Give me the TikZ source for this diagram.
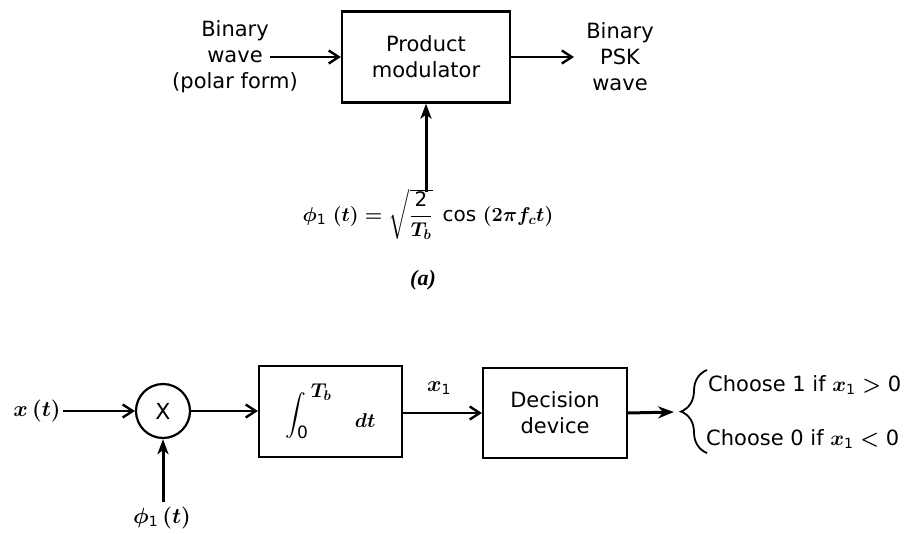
\RequirePackage{fix-cm}
\documentclass[tikz,border=0pt]{standalone}
\usepackage{exscale}
\usepackage{fontspec}
\setmainfont{DejaVu Sans}
\newfontfamily\serifit{Liberation Serif}
\usetikzlibrary{arrows.meta,decorations.pathreplacing,calc}
\newcommand{\sfone}{\mbox{\normalfont\fontsize{14}{16}\selectfont 1}}
\begin{document}
\begin{tikzpicture}[x=1pt,y=-1pt,
  lab/.style={font=\fontsize{21}{26}\selectfont, align=center, inner sep=2pt},
  mlab/.style={font=\fontsize{22}{26}\selectfont\boldmath, inner sep=2pt},
  blk/.style={draw, line width=2.2pt, align=center, font=\fontsize{21}{26}\selectfont, inner sep=0pt},
  conn/.style={line width=2.8pt, -{Straight Barb[length=10pt,width=13pt,line width=2.4pt]}},
  vconn/.style={line width=3pt, -{Stealth[length=15pt,width=11pt,inset=4pt]}},
  conns/.style={line width=3pt, -{Stealth[length=16pt,width=12pt]}},
]
\useasboundingbox (0,0) rectangle (913,533);

% ---------- (a) transmitter ----------
\node[blk, minimum width=168pt, minimum height=91pt] (pm) at (426,57) {Product\\modulator};
\node[lab] (bin) at (235,57) {Binary\\wave\\(polar form)};
\coordinate (inA) at (270,57);
\node[lab] (psk) at (620,57) {Binary\\PSK\\wave};
\coordinate (outA) at (574,57);
\draw[conn] (inA) -- (pm.west);
\draw[conn] (pm.east) -- (outA);
\node[mlab, font=\fontsize{20}{24}\selectfont\boldmath, inner sep=0pt] (phiA) at (428,214)
  {$\phi_{\sfone}\;(t) = \sqrt{\displaystyle\frac{\mbox{2}}{T_b}}\;\,\mbox{cos}\;(2\pi f_c t)$};
\coordinate (phiTop) at ([yshift=-3pt]pm.south |- phiA.north);
\draw[vconn] (phiTop) -- (pm.south);
\node[font=\fontsize{22}{26}\selectfont\serifit\bfseries\itshape] (capA) at (423,280) {(a)};

% ---------- (b) receiver ----------
\node[mlab] (xt) at (37,411) {$x\,(t)$};
\node[draw, circle, line width=2.2pt, minimum size=54pt, inner sep=0pt,
      font=\fontsize{22}{26}\selectfont] (mul) at (163,411) {X};
\node[blk, minimum width=143pt, minimum height=91pt, font=\fontsize{20}{26}\selectfont\boldmath]
  (int) at (330.5,411.5)
  {$\displaystyle\int_{\mbox{\fontsize{17}{18}\selectfont 0}}^{\;\textstyle T_b}\;\;\; \raisebox{-7pt}{$dt$}$};
\node[blk, minimum width=144pt, minimum height=90pt] (dec) at (555,413) {Decision\\device};
\node[mlab] (x1) at (439,388) {$x_{\sfone}$};
\node[mlab] (phiB) at (162,518) {$\phi_{\sfone}\,(t)$};
\coordinate (phiBtop) at (163,502);
\coordinate (brtip) at (674,412);
\coordinate (brt) at (707,370);
\coordinate (brb) at (707,453);

\draw[conn] (xt.east) -- (mul.west);
\draw[vconn] (phiBtop) -- (mul.south);
\draw[conn] (mul.east) -- (int.west |- mul.east);
\draw[conn] (int.east |- dec.west) -- (dec.west);
\draw[conns] (dec.east) -- (brtip);
\draw[line width=1.8pt, decorate, decoration={brace, amplitude=26pt}] (brb) -- (brt);

\node[lab, anchor=west, font=\fontsize{21}{26}\selectfont\boldmath] (ch1) at (706,385) {Choose 1 if $x_{\sfone} > \mbox{0}$};
\node[lab, anchor=west, font=\fontsize{21}{26}\selectfont\boldmath] (ch0) at (704,439) {Choose 0 if $x_{\sfone} < \mbox{0}$};
\end{tikzpicture}
\end{document}
